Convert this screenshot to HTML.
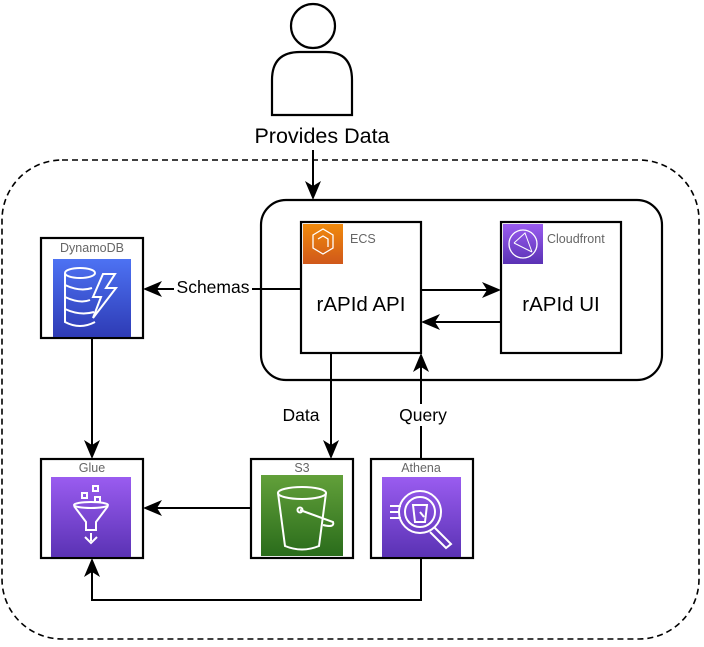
<!DOCTYPE html>
<html><head><meta charset="utf-8"><style>html,body{margin:0;padding:0;background:#fff}</style></head>
<body>
<svg width="704" height="642" viewBox="0 0 704 642" xmlns="http://www.w3.org/2000/svg" font-family="Liberation Sans, Arial, sans-serif">
<defs>
<linearGradient id="gb" x1="0" y1="0" x2="0" y2="1"><stop offset="0" stop-color="#4d72f3"/><stop offset="1" stop-color="#2e3bb5"/></linearGradient>
<linearGradient id="gp" x1="0" y1="0" x2="0" y2="1"><stop offset="0" stop-color="#9a5cf0"/><stop offset="1" stop-color="#5a32b4"/></linearGradient>
<linearGradient id="gg" x1="0" y1="0" x2="0" y2="1"><stop offset="0" stop-color="#62a03a"/><stop offset="1" stop-color="#2a6c1b"/></linearGradient>
<linearGradient id="go" x1="0" y1="0" x2="0" y2="1"><stop offset="0" stop-color="#f08a0c"/><stop offset="1" stop-color="#d0581a"/></linearGradient>
</defs>
<g fill="none" stroke="#000" stroke-width="2.2">
<circle cx="313" cy="26" r="22" fill="#fff"/>
<path d="M272,115 V80 Q272,52 300,52 H326 Q352,52 352,80 V115 Z" fill="#fff"/>
<rect x="2" y="160" width="697" height="479" rx="60" stroke-dasharray="6,4" stroke-width="1.6"/>
<rect x="261" y="200" width="401" height="180" rx="25"/>
<rect x="301" y="222" width="120" height="131" fill="#fff"/>
<rect x="501" y="222" width="120" height="131" fill="#fff"/>
<rect x="41" y="238" width="102" height="100"/>
<rect x="41" y="459" width="102" height="99"/>
<rect x="251" y="459" width="102" height="99"/>
<rect x="371" y="459" width="102" height="99"/>
</g>
<g fill="none" stroke="#000" stroke-width="2">
<line x1="313" y1="150" x2="313" y2="196"/>
<line x1="421" y1="290" x2="497" y2="290"/>
<line x1="501" y1="322" x2="425" y2="322"/>
<line x1="301" y1="289" x2="147" y2="289"/>
<line x1="92" y1="338" x2="92" y2="455"/>
<line x1="331" y1="353" x2="331" y2="455"/>
<line x1="421" y1="459" x2="421" y2="357"/>
<line x1="251" y1="508" x2="147" y2="508"/>
<polyline points="421,558 421,600 92,600 92,562"/>
</g>
<g fill="#000">
<path d="M313,200 L305,181 L313,186 L321,181 Z"/>
<path d="M501,290 L482,282 L487,290 L482,298 Z"/>
<path d="M421,322 L440,314 L435,322 L440,330 Z"/>
<path d="M143,289 L162,281 L157,289 L162,297 Z"/>
<path d="M92,459 L84,440 L92,445 L100,440 Z"/>
<path d="M331,459 L323,440 L331,445 L339,440 Z"/>
<path d="M421,353 L413,372 L421,367 L429,372 Z"/>
<path d="M143,508 L162,500 L157,508 L162,516 Z"/>
<path d="M92,558 L84,577 L92,572 L100,577 Z"/>
</g>
<rect x="252" y="120" width="140" height="30" fill="#fff"/>
<text x="322" y="143" font-size="21.5" text-anchor="middle">Provides Data</text>
<rect x="174" y="277" width="78" height="22" fill="#fff"/>
<text x="213" y="293" font-size="17.5" text-anchor="middle">Schemas</text>
<rect x="278" y="404" width="46" height="22" fill="#fff"/>
<text x="301" y="421" font-size="17.5" text-anchor="middle">Data</text>
<rect x="396" y="404" width="54" height="22" fill="#fff"/>
<text x="423" y="421" font-size="17.5" text-anchor="middle">Query</text>
<text x="361" y="311" font-size="20.5" text-anchor="middle">rAPId API</text>
<text x="561" y="311" font-size="20.5" text-anchor="middle">rAPId UI</text>
<g font-size="12.5" fill="#666">
<text x="350" y="243">ECS</text>
<text x="547" y="243">Cloudfront</text>
<text x="92" y="252" text-anchor="middle">DynamoDB</text>
<text x="92" y="472" text-anchor="middle">Glue</text>
<text x="302" y="472" text-anchor="middle">S3</text>
<text x="421" y="472" text-anchor="middle">Athena</text>
</g>
<rect x="303" y="224" width="40" height="40" fill="url(#go)"/>
<path d="M313,235 L323,229 L333,235 L333,248 L323,254 L313,248 Z M318,239 L323,236 L328,239 L328,247" fill="none" stroke="#fff" stroke-width="1.3"/>
<rect x="503" y="224" width="40" height="40" fill="url(#gp)"/>
<circle cx="523" cy="244" r="14" fill="none" stroke="#fff" stroke-width="1.3"/>
<path d="M514,243 L525,233 L532,252 M514,243 L532,252" fill="none" stroke="#fff" stroke-width="1"/>
<rect x="53" y="259" width="78" height="78" fill="url(#gb)"/>
<g fill="none" stroke="#fff" stroke-width="2">
<ellipse cx="80" cy="273" rx="15" ry="5"/>
<path d="M65,273 V322 Q80,330 95,322 M65,285 Q80,292 92,288 M65,297 Q80,304 90,300 M65,309 Q80,316 94,312"/>
<path d="M103,274 L93,297 L101,297 L93,318 L116,288 L106,288 L115,274 Z"/>
</g>
<rect x="51" y="477" width="80" height="80" fill="url(#gp)"/>
<g fill="none" stroke="#fff" stroke-width="2">
<rect x="93" y="486" width="5" height="5"/><rect x="82" y="493" width="5" height="5"/><rect x="95" y="497" width="5" height="5"/>
<ellipse cx="91" cy="505" rx="17" ry="3"/>
<path d="M74,506 L86,522 V530 H96 V522 L108,506 M91,533 V541 M85,537 L91,543 L97,537"/>
</g>
<rect x="261" y="475" width="82" height="81" fill="url(#gg)"/>
<g fill="none" stroke="#fff" stroke-width="2">
<ellipse cx="302" cy="493" rx="24" ry="6"/>
<path d="M278,493 L285,546 Q302,553 319,546 L326,493"/>
<circle cx="300" cy="510" r="2.5"/>
<path d="M300,510 L333,522 Q335,528 323,525"/>
</g>
<rect x="382" y="477" width="79" height="80" fill="url(#gp)"/>
<g fill="none" stroke="#fff" stroke-width="2">
<circle cx="420" cy="512" r="21"/><circle cx="420" cy="512" r="15"/>
<path d="M434,527 L451,544 L446,548 L430,532 M390,506 H401 M390,512 H399 M390,518 H401"/>
<path d="M413,505 H427 L425,522 H415 Z M420,512 L424,517"/>
</g>
</svg>
</body></html>
